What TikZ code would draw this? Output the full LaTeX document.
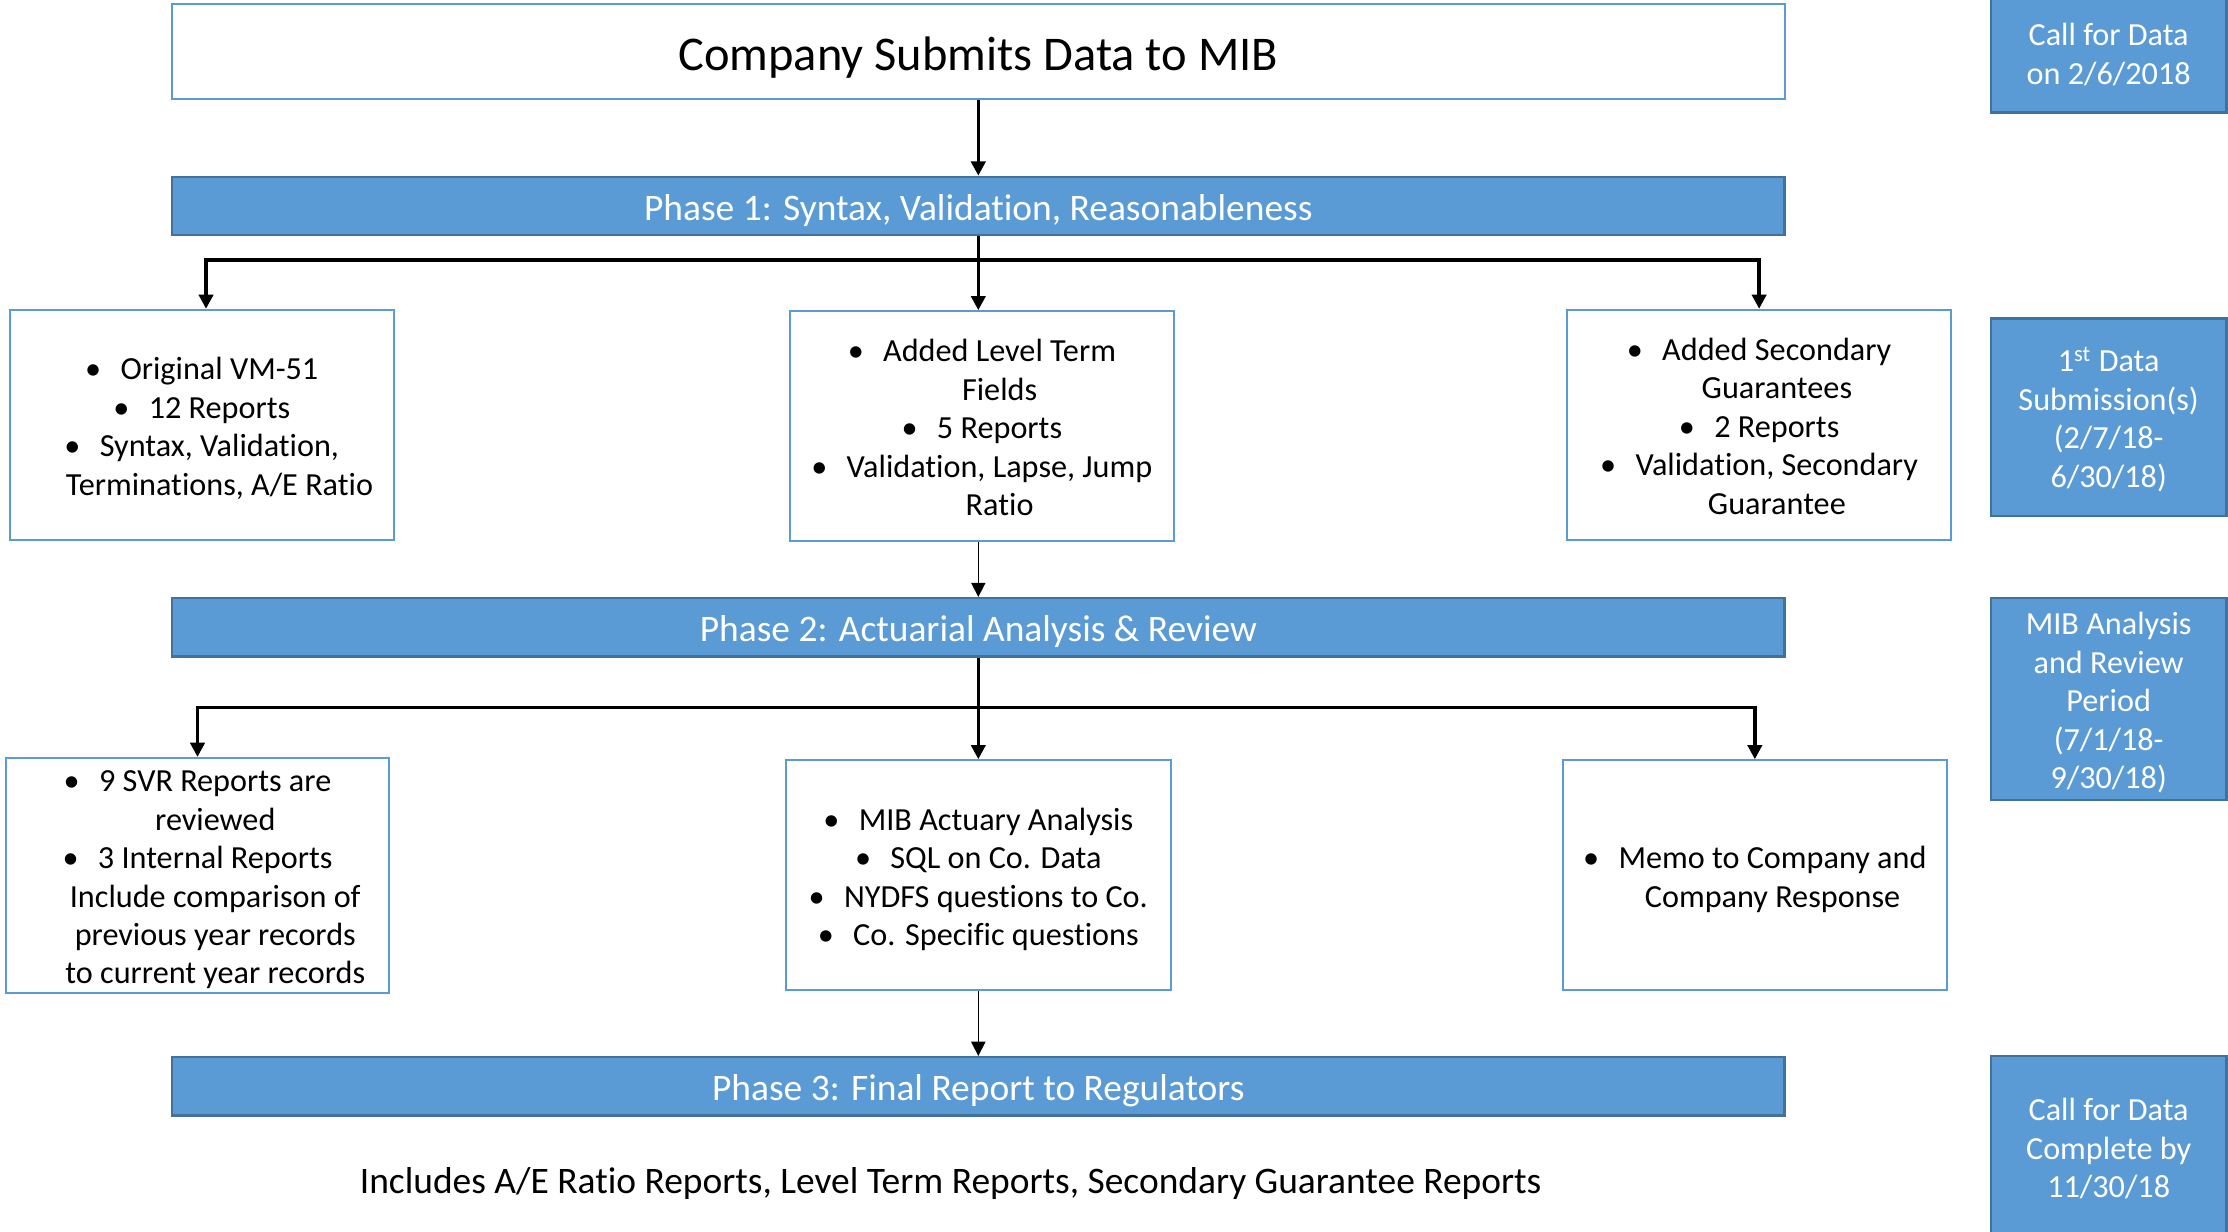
\documentclass[tikz,border=0pt]{standalone}
\usepackage{fontspec}
\setmainfont{Carlito}[Ligatures=NoCommon]
\usetikzlibrary{arrows.meta}
\definecolor{bluefill}{HTML}{5B9BD5}
\definecolor{blueedge}{HTML}{41719C}
\newcommand\bul{\textbullet\hspace{0.6em}}
\newcommand\fs{\rule{0pt}{1.05em}}
\newcommand\cont{\hspace*{0.5cm}}
\begin{document}
\begin{tikzpicture}[x=0.02cm,y=-0.02cm,
  txt/.style={font=\fontsize{12.9}{15.4}\selectfont, align=center,
    execute at begin node={\rule{0pt}{1.05em}},
    execute at end node={\rule[-0.27em]{0pt}{0pt}}},
  bigtxt/.style={txt, font=\fontsize{15}{18}\selectfont},
  whitebox/.style={draw=bluefill, line width=0.8pt, fill=white, inner sep=0pt, txt},
  phasebar/.style={draw=blueedge, line width=1pt, fill=bluefill, text=white, minimum width=22.7cm, minimum height=0.82cm, inner sep=0pt, bigtxt},
  sidebox/.style={draw=blueedge, line width=1pt, fill=bluefill, text=white, minimum width=3.32cm, inner sep=0pt, txt},
  thickarr/.style={line width=1.4pt, -{Triangle[length=0.2cm,width=0.2cm]}},
  thinarr/.style={line width=0.6pt, -{Triangle[length=0.2cm,width=0.2cm]}},
]
\clip (0,0) rectangle (1568,867);
\fill[white] (0,0) rectangle (1568,867);

\node[whitebox, minimum width=22.7cm, minimum height=1.34cm, font=\fontsize{19.4}{23}\selectfont] (top) at (688.5,36.5) {Company Submits Data to MIB};

\node[phasebar] (p1) at (688.5,145) {Phase 1: Syntax, Validation, Reasonableness};
\node[phasebar] (p2) at (688.5,441.5) {Phase 2: Actuarial Analysis \& Review};
\node[phasebar] (p3) at (688.5,764.5) {Phase 3: Final Report to Regulators};

\node[whitebox, minimum width=5.4cm, minimum height=3.24cm] (l1) at (142,299)
  {\fs\bul Original VM-51\\ \bul 12 Reports\\ \bul Syntax, Validation,\\ \cont Terminations, A/E Ratio};
\node[whitebox, minimum width=5.4cm, minimum height=3.24cm] (m1) at (691,300)
  {\fs\bul Added Level Term\\ \cont Fields\\ \bul 5 Reports\\ \bul Validation, Lapse, Jump\\ \cont Ratio};
\node[whitebox, minimum width=5.4cm, minimum height=3.24cm] (r1) at (1238,299)
  {\fs\bul Added Secondary\\ \cont Guarantees\\ \bul 2 Reports\\ \bul Validation, Secondary\\ \cont Guarantee};

\node[whitebox, minimum width=5.4cm, minimum height=3.24cm] (l2) at (139,616)
  {\fs\bul 9 SVR Reports are\\ \cont reviewed\\ \bul 3 Internal Reports\\ \cont Include comparison of\\ \cont previous year records\\ \cont to current year records};
\node[whitebox, minimum width=5.42cm, minimum height=3.24cm] (m2) at (688.5,616)
  {\fs\bul MIB Actuary Analysis\\ \bul SQL on Co. Data\\ \bul NYDFS questions to Co.\\ \bul Co. Specific questions};
\node[whitebox, minimum width=5.4cm, minimum height=3.24cm] (r2) at (1235,616)
  {\fs\bul Memo to Company and\\ \cont Company Response};

\node[bigtxt] (note) at (669,830) {Includes A/E Ratio Reports, Level Term Reports, Secondary Guarantee Reports};

\node[sidebox, minimum height=1.68cm] (sa) at (1484,37) {\fs Call for Data\\on 2/6/2018};
\node[sidebox, minimum height=2.78cm] (sb) at (1484,293.5) {\fs 1\textsuperscript{st} Data\\Submission(s)\\(2/7/18-\\6/30/18)};
\node[sidebox, minimum height=2.84cm] (sc) at (1484,492) {\fs MIB Analysis\\and Review\\Period\\(7/1/18-\\9/30/18)};
\node[sidebox, minimum height=2.56cm] (sd) at (1484,807) {\fs Call for Data\\Complete by\\11/30/18};

\coordinate (b1) at (688.5,183);
\coordinate (b2) at (688.5,498);
\draw[thickarr] (top.south) -- (p1.north);
\draw[thickarr] (p1.south) -- (p1.south |- m1.north);
\draw[thickarr] (b1) -| ([xshift=0.06cm]l1.north);
\draw[thickarr] (b1) -| (r1.north);
\draw[thinarr] (m1.south -| p1.south) -- (p2.north);
\draw[thickarr] (p2.south) -- (m2.north);
\draw[thickarr] (b2) -| (l2.north);
\draw[thickarr] (b2) -| (r2.north);
\draw[thinarr] (m2.south) -- (p3.north);
\end{tikzpicture}
\end{document}
